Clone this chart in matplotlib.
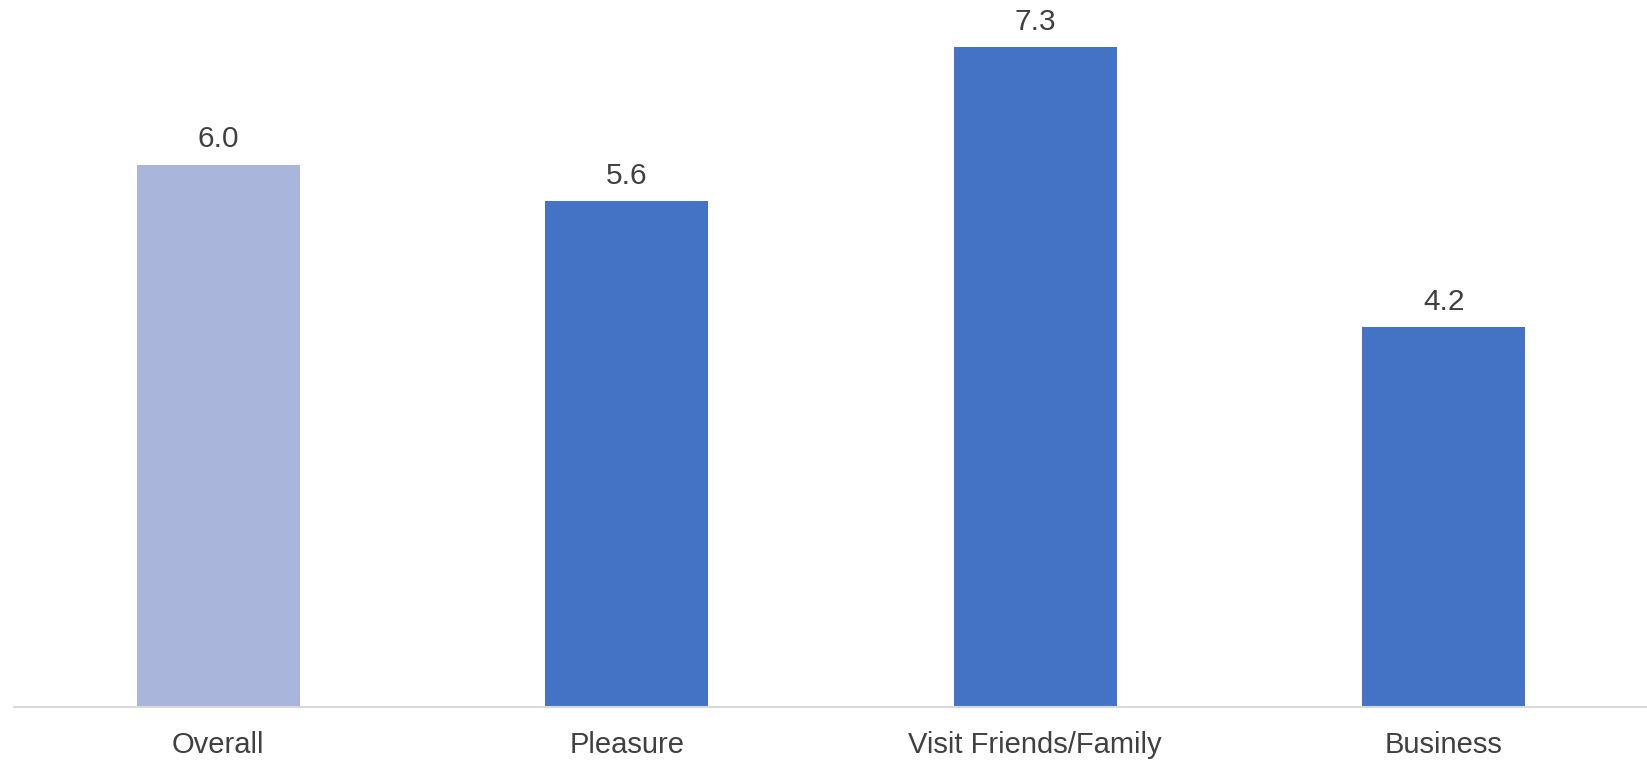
import matplotlib
matplotlib.use("Agg")
import matplotlib.pyplot as plt

categories = ["Overall", "Pleasure", "Visit Friends/Family", "Business"]
values = [6.0, 5.6, 7.3, 4.2]
bar_colors = ["#A9B5DA", "#4472C4", "#4472C4", "#4472C4"]

plt.rcParams["font.family"] = ["Liberation Sans", "DejaVu Sans"]
text_color = "#404040"

W, H = 1647, 761
fig = plt.figure(figsize=(W / 100, H / 100), dpi=100)
base_y = 707
px_per_unit = 90.4
ymax = 7.8
ax_h = ymax * px_per_unit
ax = fig.add_axes([14 / W, (H - base_y) / H, 1634 / W, ax_h / H])

x = range(len(categories))
bars = ax.bar(x, values, width=0.4, color=bar_colors, zorder=2)
ax.set_xlim(-0.5, len(categories) - 0.5)
ax.set_ylim(0, ymax)

for rect, v in zip(bars, values):
    ax.annotate(f"{v:.1f}", (rect.get_x() + rect.get_width() / 2, v),
                xytext=(0, 8), textcoords="offset points",
                ha="center", va="bottom", fontsize=21.5, color=text_color)

ax.set_xticks(list(x))
ax.set_xticklabels(categories, fontsize=21, color=text_color)
ax.tick_params(axis="x", length=0, pad=17)
ax.set_yticks([])
for side in ["top", "right", "left"]:
    ax.spines[side].set_visible(False)
ax.spines["bottom"].set_color("#D9D9D9")
ax.spines["bottom"].set_linewidth(1.5)

fig.savefig("out.png", dpi=100)
